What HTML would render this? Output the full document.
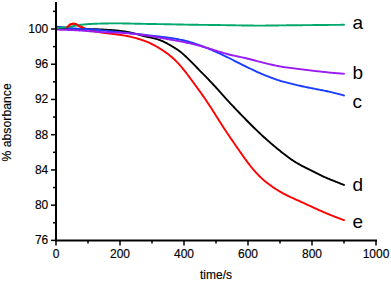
<!DOCTYPE html>
<html><head><meta charset="utf-8"><style>
html,body{margin:0;padding:0;background:#fff;width:391px;height:281px;overflow:hidden}
svg{display:block;font-family:"Liberation Sans",sans-serif}
text{fill:#000;stroke:#000;stroke-width:0.15px}
</style></head><body>
<svg width="391" height="281" viewBox="0 0 391 281">
<path d="M56.0,28.70 L57.0,28.70 L58.0,28.70 L59.0,28.70 L60.0,28.70 L61.0,28.69 L62.0,28.65 L63.0,28.58 L64.0,28.50 L65.0,28.28 L66.0,27.90 L67.0,27.24 L68.0,26.40 L69.0,25.49 L70.0,24.70 L71.0,24.20 L72.0,23.90 L73.0,23.76 L74.0,23.70 L75.0,23.86 L76.0,24.20 L77.0,24.74 L78.0,25.40 L79.0,25.98 L80.0,26.50 L81.0,26.90 L82.0,27.25 L83.0,27.60 L84.0,27.97 L85.0,28.35 L86.0,28.72 L87.0,29.07 L88.0,29.40 L89.0,29.70 L90.0,29.98 L91.0,30.24 L92.0,30.50 L93.0,30.75 L94.0,31.00 L95.0,31.25 L96.0,31.49 L97.0,31.72 L98.0,31.95 L99.0,32.18 L100.0,32.39 L101.0,32.51 L102.0,32.62 L103.0,32.74 L104.0,32.86 L105.0,32.98 L106.0,33.10 L107.0,33.22 L108.0,33.34 L109.0,33.46 L110.0,33.58 L111.0,33.71 L112.0,33.83 L113.0,33.95 L114.0,34.08 L115.0,34.21 L116.0,34.34 L117.0,34.47 L118.0,34.60 L119.0,34.74 L120.0,34.89 L121.0,35.03 L122.0,35.18 L123.0,35.34 L124.0,35.50 L125.0,35.67 L126.0,35.85 L127.0,36.03 L128.0,36.22 L129.0,36.43 L130.0,36.64 L131.0,36.87 L132.0,37.10 L133.0,37.35 L134.0,37.60 L135.0,37.87 L136.0,38.14 L137.0,38.43 L138.0,38.72 L139.0,39.02 L140.0,39.33 L141.0,39.65 L142.0,39.98 L143.0,40.32 L144.0,40.67 L145.0,41.03 L146.0,41.41 L147.0,41.80 L148.0,42.21 L149.0,42.64 L150.0,43.09 L151.0,43.57 L152.0,44.06 L153.0,44.57 L154.0,45.10 L155.0,45.64 L156.0,46.21 L157.0,46.79 L158.0,47.38 L159.0,47.99 L160.0,48.60 L161.0,49.23 L162.0,49.88 L163.0,50.54 L164.0,51.21 L165.0,51.90 L166.0,52.61 L167.0,53.33 L168.0,54.08 L169.0,54.85 L170.0,55.65 L171.0,56.47 L172.0,57.32 L173.0,58.20 L174.0,59.11 L175.0,60.06 L176.0,61.04 L177.0,62.07 L178.0,63.12 L179.0,64.22 L180.0,65.34 L181.0,66.50 L182.0,67.69 L183.0,68.90 L184.0,70.14 L185.0,71.40 L186.0,72.68 L187.0,73.98 L188.0,75.29 L189.0,76.62 L190.0,77.96 L191.0,79.30 L192.0,80.66 L193.0,82.02 L194.0,83.38 L195.0,84.75 L196.0,86.12 L197.0,87.48 L198.0,88.86 L199.0,90.23 L200.0,91.62 L201.0,93.01 L202.0,94.42 L203.0,95.84 L204.0,97.27 L205.0,98.72 L206.0,100.19 L207.0,101.68 L208.0,103.18 L209.0,104.70 L210.0,106.23 L211.0,107.77 L212.0,109.33 L213.0,110.90 L214.0,112.47 L215.0,114.05 L216.0,115.64 L217.0,117.23 L218.0,118.83 L219.0,120.42 L220.0,122.01 L221.0,123.59 L222.0,125.16 L223.0,126.73 L224.0,128.28 L225.0,129.81 L226.0,131.32 L227.0,132.82 L228.0,134.30 L229.0,135.77 L230.0,137.24 L231.0,138.69 L232.0,140.14 L233.0,141.58 L234.0,143.03 L235.0,144.47 L236.0,145.92 L237.0,147.37 L238.0,148.82 L239.0,150.27 L240.0,151.71 L241.0,153.15 L242.0,154.58 L243.0,155.99 L244.0,157.40 L245.0,158.79 L246.0,160.16 L247.0,161.52 L248.0,162.85 L249.0,164.17 L250.0,165.46 L251.0,166.72 L252.0,167.96 L253.0,169.17 L254.0,170.34 L255.0,171.49 L256.0,172.59 L257.0,173.67 L258.0,174.71 L259.0,175.73 L260.0,176.71 L261.0,177.66 L262.0,178.59 L263.0,179.48 L264.0,180.36 L265.0,181.20 L266.0,182.03 L267.0,182.83 L268.0,183.61 L269.0,184.36 L270.0,185.10 L271.0,185.82 L272.0,186.52 L273.0,187.21 L274.0,187.88 L275.0,188.54 L276.0,189.18 L277.0,189.81 L278.0,190.42 L279.0,191.02 L280.0,191.61 L281.0,192.19 L282.0,192.75 L283.0,193.30 L284.0,193.84 L285.0,194.36 L286.0,194.88 L287.0,195.38 L288.0,195.87 L289.0,196.35 L290.0,196.83 L291.0,197.30 L292.0,197.76 L293.0,198.21 L294.0,198.67 L295.0,199.12 L296.0,199.56 L297.0,200.01 L298.0,200.46 L299.0,200.91 L300.0,201.36 L301.0,201.81 L302.0,202.27 L303.0,202.73 L304.0,203.19 L305.0,203.65 L306.0,204.12 L307.0,204.58 L308.0,205.05 L309.0,205.51 L310.0,205.98 L311.0,206.44 L312.0,206.91 L313.0,207.37 L314.0,207.83 L315.0,208.29 L316.0,208.74 L317.0,209.20 L318.0,209.65 L319.0,210.09 L320.0,210.54 L321.0,210.98 L322.0,211.41 L323.0,211.85 L324.0,212.28 L325.0,212.71 L326.0,213.13 L327.0,213.55 L328.0,213.96 L329.0,214.38 L330.0,214.79 L331.0,215.19 L332.0,215.59 L333.0,215.99 L334.0,216.38 L335.0,216.77 L336.0,217.16 L337.0,217.55 L338.0,217.93 L339.0,218.31 L340.0,218.70 L341.0,219.08 L342.0,219.45 L343.0,219.83 L344.0,220.21" fill="none" stroke="#ff0000" stroke-width="1.9" stroke-linejoin="round" stroke-linecap="round"/>
<path d="M56.0,28.70 L57.0,28.70 L58.0,28.71 L59.0,28.72 L60.0,28.72 L61.0,28.73 L62.0,28.74 L63.0,28.74 L64.0,28.75 L65.0,28.76 L66.0,28.76 L67.0,28.77 L68.0,28.78 L69.0,28.78 L70.0,28.79 L71.0,28.80 L72.0,28.81 L73.0,28.82 L74.0,28.83 L75.0,28.84 L76.0,28.85 L77.0,28.86 L78.0,28.87 L79.0,28.88 L80.0,28.90 L81.0,28.91 L82.0,28.92 L83.0,28.94 L84.0,28.95 L85.0,28.97 L86.0,28.99 L87.0,29.01 L88.0,29.03 L89.0,29.05 L90.0,29.07 L91.0,29.10 L92.0,29.12 L93.0,29.15 L94.0,29.18 L95.0,29.21 L96.0,29.25 L97.0,29.28 L98.0,29.32 L99.0,29.36 L100.0,29.40 L101.0,29.45 L102.0,29.50 L103.0,29.55 L104.0,29.60 L105.0,29.66 L106.0,29.71 L107.0,29.78 L108.0,29.84 L109.0,29.91 L110.0,29.97 L111.0,30.05 L112.0,30.12 L113.0,30.20 L114.0,30.28 L115.0,30.36 L116.0,30.45 L117.0,30.54 L118.0,30.63 L119.0,30.73 L120.0,30.84 L121.0,30.96 L122.0,31.08 L123.0,31.21 L124.0,31.36 L125.0,31.51 L126.0,31.68 L127.0,31.86 L128.0,32.06 L129.0,32.26 L130.0,32.48 L131.0,32.70 L132.0,32.94 L133.0,33.18 L134.0,33.42 L135.0,33.68 L136.0,33.93 L137.0,34.19 L138.0,34.45 L139.0,34.71 L140.0,34.97 L141.0,35.23 L142.0,35.48 L143.0,35.74 L144.0,35.99 L145.0,36.24 L146.0,36.49 L147.0,36.73 L148.0,36.97 L149.0,37.21 L150.0,37.44 L151.0,37.67 L152.0,37.89 L153.0,38.12 L154.0,38.36 L155.0,38.61 L156.0,38.87 L157.0,39.15 L158.0,39.45 L159.0,39.78 L160.0,40.14 L161.0,40.53 L162.0,40.95 L163.0,41.39 L164.0,41.87 L165.0,42.37 L166.0,42.89 L167.0,43.43 L168.0,43.98 L169.0,44.54 L170.0,45.11 L171.0,45.69 L172.0,46.27 L173.0,46.86 L174.0,47.46 L175.0,48.08 L176.0,48.72 L177.0,49.38 L178.0,50.07 L179.0,50.78 L180.0,51.53 L181.0,52.32 L182.0,53.13 L183.0,53.98 L184.0,54.86 L185.0,55.76 L186.0,56.69 L187.0,57.63 L188.0,58.60 L189.0,59.58 L190.0,60.57 L191.0,61.58 L192.0,62.59 L193.0,63.62 L194.0,64.64 L195.0,65.68 L196.0,66.71 L197.0,67.74 L198.0,68.77 L199.0,69.80 L200.0,70.82 L201.0,71.84 L202.0,72.85 L203.0,73.86 L204.0,74.87 L205.0,75.88 L206.0,76.90 L207.0,77.92 L208.0,78.95 L209.0,79.99 L210.0,81.04 L211.0,82.09 L212.0,83.15 L213.0,84.23 L214.0,85.31 L215.0,86.40 L216.0,87.50 L217.0,88.62 L218.0,89.74 L219.0,90.86 L220.0,91.99 L221.0,93.11 L222.0,94.24 L223.0,95.36 L224.0,96.48 L225.0,97.59 L226.0,98.70 L227.0,99.79 L228.0,100.88 L229.0,101.95 L230.0,103.03 L231.0,104.09 L232.0,105.16 L233.0,106.21 L234.0,107.27 L235.0,108.31 L236.0,109.36 L237.0,110.41 L238.0,111.45 L239.0,112.49 L240.0,113.53 L241.0,114.57 L242.0,115.61 L243.0,116.64 L244.0,117.67 L245.0,118.70 L246.0,119.73 L247.0,120.75 L248.0,121.77 L249.0,122.78 L250.0,123.79 L251.0,124.79 L252.0,125.78 L253.0,126.77 L254.0,127.75 L255.0,128.72 L256.0,129.69 L257.0,130.65 L258.0,131.61 L259.0,132.55 L260.0,133.49 L261.0,134.42 L262.0,135.35 L263.0,136.27 L264.0,137.18 L265.0,138.08 L266.0,138.98 L267.0,139.87 L268.0,140.75 L269.0,141.63 L270.0,142.49 L271.0,143.36 L272.0,144.21 L273.0,145.06 L274.0,145.91 L275.0,146.75 L276.0,147.58 L277.0,148.41 L278.0,149.23 L279.0,150.05 L280.0,150.86 L281.0,151.67 L282.0,152.47 L283.0,153.27 L284.0,154.05 L285.0,154.83 L286.0,155.60 L287.0,156.35 L288.0,157.09 L289.0,157.82 L290.0,158.53 L291.0,159.22 L292.0,159.90 L293.0,160.56 L294.0,161.20 L295.0,161.83 L296.0,162.44 L297.0,163.04 L298.0,163.63 L299.0,164.20 L300.0,164.76 L301.0,165.30 L302.0,165.84 L303.0,166.36 L304.0,166.88 L305.0,167.39 L306.0,167.90 L307.0,168.40 L308.0,168.90 L309.0,169.41 L310.0,169.91 L311.0,170.42 L312.0,170.93 L313.0,171.44 L314.0,171.95 L315.0,172.46 L316.0,172.96 L317.0,173.47 L318.0,173.96 L319.0,174.46 L320.0,174.94 L321.0,175.42 L322.0,175.89 L323.0,176.35 L324.0,176.80 L325.0,177.25 L326.0,177.69 L327.0,178.12 L328.0,178.54 L329.0,178.96 L330.0,179.38 L331.0,179.79 L332.0,180.19 L333.0,180.59 L334.0,180.99 L335.0,181.39 L336.0,181.78 L337.0,182.17 L338.0,182.57 L339.0,182.96 L340.0,183.36 L341.0,183.76 L342.0,184.16 L343.0,184.57 L344.0,184.97" fill="none" stroke="#000000" stroke-width="1.9" stroke-linejoin="round" stroke-linecap="round"/>
<path d="M56.0,26.74 L57.0,26.79 L58.0,26.85 L59.0,26.91 L60.0,26.98 L61.0,27.06 L62.0,27.15 L63.0,27.26 L64.0,27.38 L65.0,27.51 L66.0,27.64 L67.0,27.77 L68.0,27.89 L69.0,28.01 L70.0,28.11 L71.0,28.20 L72.0,28.29 L73.0,28.37 L74.0,28.44 L75.0,28.50 L76.0,28.56 L77.0,28.61 L78.0,28.66 L79.0,28.70 L80.0,28.75 L81.0,28.79 L82.0,28.83 L83.0,28.87 L84.0,28.91 L85.0,28.96 L86.0,29.00 L87.0,29.05 L88.0,29.10 L89.0,29.16 L90.0,29.23 L91.0,29.30 L92.0,29.37 L93.0,29.45 L94.0,29.54 L95.0,29.63 L96.0,29.73 L97.0,29.82 L98.0,29.93 L99.0,30.03 L100.0,30.14 L101.0,30.24 L102.0,30.35 L103.0,30.46 L104.0,30.57 L105.0,30.68 L106.0,30.79 L107.0,30.89 L108.0,31.00 L109.0,31.10 L110.0,31.21 L111.0,31.31 L112.0,31.41 L113.0,31.51 L114.0,31.61 L115.0,31.71 L116.0,31.81 L117.0,31.91 L118.0,32.01 L119.0,32.11 L120.0,32.21 L121.0,32.30 L122.0,32.40 L123.0,32.50 L124.0,32.60 L125.0,32.70 L126.0,32.80 L127.0,32.90 L128.0,33.00 L129.0,33.11 L130.0,33.21 L131.0,33.32 L132.0,33.42 L133.0,33.53 L134.0,33.64 L135.0,33.74 L136.0,33.85 L137.0,33.97 L138.0,34.08 L139.0,34.19 L140.0,34.31 L141.0,34.42 L142.0,34.54 L143.0,34.66 L144.0,34.78 L145.0,34.90 L146.0,35.02 L147.0,35.14 L148.0,35.25 L149.0,35.37 L150.0,35.49 L151.0,35.60 L152.0,35.71 L153.0,35.83 L154.0,35.94 L155.0,36.05 L156.0,36.16 L157.0,36.27 L158.0,36.38 L159.0,36.49 L160.0,36.60 L161.0,36.72 L162.0,36.84 L163.0,36.96 L164.0,37.08 L165.0,37.20 L166.0,37.33 L167.0,37.46 L168.0,37.59 L169.0,37.73 L170.0,37.87 L171.0,38.02 L172.0,38.17 L173.0,38.33 L174.0,38.49 L175.0,38.66 L176.0,38.84 L177.0,39.02 L178.0,39.21 L179.0,39.40 L180.0,39.60 L181.0,39.81 L182.0,40.03 L183.0,40.26 L184.0,40.49 L185.0,40.73 L186.0,40.98 L187.0,41.24 L188.0,41.51 L189.0,41.78 L190.0,42.07 L191.0,42.36 L192.0,42.66 L193.0,42.97 L194.0,43.29 L195.0,43.62 L196.0,43.96 L197.0,44.30 L198.0,44.66 L199.0,45.02 L200.0,45.38 L201.0,45.75 L202.0,46.13 L203.0,46.51 L204.0,46.89 L205.0,47.28 L206.0,47.68 L207.0,48.07 L208.0,48.48 L209.0,48.89 L210.0,49.30 L211.0,49.72 L212.0,50.14 L213.0,50.57 L214.0,51.01 L215.0,51.44 L216.0,51.89 L217.0,52.33 L218.0,52.78 L219.0,53.24 L220.0,53.70 L221.0,54.16 L222.0,54.63 L223.0,55.10 L224.0,55.58 L225.0,56.06 L226.0,56.54 L227.0,57.03 L228.0,57.52 L229.0,58.01 L230.0,58.51 L231.0,59.01 L232.0,59.52 L233.0,60.02 L234.0,60.53 L235.0,61.04 L236.0,61.55 L237.0,62.06 L238.0,62.57 L239.0,63.08 L240.0,63.58 L241.0,64.09 L242.0,64.59 L243.0,65.09 L244.0,65.58 L245.0,66.08 L246.0,66.57 L247.0,67.06 L248.0,67.54 L249.0,68.03 L250.0,68.52 L251.0,69.00 L252.0,69.48 L253.0,69.96 L254.0,70.43 L255.0,70.91 L256.0,71.37 L257.0,71.83 L258.0,72.29 L259.0,72.74 L260.0,73.18 L261.0,73.61 L262.0,74.03 L263.0,74.45 L264.0,74.86 L265.0,75.27 L266.0,75.67 L267.0,76.07 L268.0,76.46 L269.0,76.84 L270.0,77.23 L271.0,77.61 L272.0,77.99 L273.0,78.36 L274.0,78.73 L275.0,79.09 L276.0,79.44 L277.0,79.78 L278.0,80.12 L279.0,80.44 L280.0,80.76 L281.0,81.06 L282.0,81.35 L283.0,81.63 L284.0,81.91 L285.0,82.17 L286.0,82.43 L287.0,82.69 L288.0,82.94 L289.0,83.18 L290.0,83.43 L291.0,83.67 L292.0,83.91 L293.0,84.16 L294.0,84.40 L295.0,84.63 L296.0,84.87 L297.0,85.10 L298.0,85.34 L299.0,85.57 L300.0,85.79 L301.0,86.02 L302.0,86.24 L303.0,86.45 L304.0,86.67 L305.0,86.88 L306.0,87.09 L307.0,87.30 L308.0,87.50 L309.0,87.71 L310.0,87.91 L311.0,88.11 L312.0,88.30 L313.0,88.50 L314.0,88.69 L315.0,88.89 L316.0,89.08 L317.0,89.27 L318.0,89.45 L319.0,89.64 L320.0,89.83 L321.0,90.02 L322.0,90.22 L323.0,90.41 L324.0,90.61 L325.0,90.82 L326.0,91.03 L327.0,91.24 L328.0,91.45 L329.0,91.67 L330.0,91.89 L331.0,92.12 L332.0,92.35 L333.0,92.58 L334.0,92.82 L335.0,93.06 L336.0,93.31 L337.0,93.57 L338.0,93.83 L339.0,94.09 L340.0,94.36 L341.0,94.64 L342.0,94.92 L343.0,95.20 L344.0,95.48" fill="none" stroke="#1a3cff" stroke-width="1.9" stroke-linejoin="round" stroke-linecap="round"/>
<path d="M56.0,29.60 L57.0,29.62 L58.0,29.65 L59.0,29.67 L60.0,29.69 L61.0,29.72 L62.0,29.75 L63.0,29.77 L64.0,29.80 L65.0,29.83 L66.0,29.86 L67.0,29.89 L68.0,29.93 L69.0,29.96 L70.0,30.00 L71.0,30.04 L72.0,30.08 L73.0,30.13 L74.0,30.17 L75.0,30.22 L76.0,30.27 L77.0,30.33 L78.0,30.38 L79.0,30.45 L80.0,30.51 L81.0,30.58 L82.0,30.65 L83.0,30.72 L84.0,30.79 L85.0,30.87 L86.0,30.95 L87.0,31.03 L88.0,31.11 L89.0,31.19 L90.0,31.27 L91.0,31.35 L92.0,31.43 L93.0,31.52 L94.0,31.60 L95.0,31.68 L96.0,31.75 L97.0,31.83 L98.0,31.90 L99.0,31.97 L100.0,32.04 L101.0,32.11 L102.0,32.17 L103.0,32.23 L104.0,32.28 L105.0,32.33 L106.0,32.38 L107.0,32.42 L108.0,32.46 L109.0,32.49 L110.0,32.52 L111.0,32.55 L112.0,32.58 L113.0,32.60 L114.0,32.62 L115.0,32.65 L116.0,32.68 L117.0,32.70 L118.0,32.73 L119.0,32.76 L120.0,32.80 L121.0,32.84 L122.0,32.89 L123.0,32.94 L124.0,32.99 L125.0,33.05 L126.0,33.13 L127.0,33.20 L128.0,33.29 L129.0,33.38 L130.0,33.48 L131.0,33.59 L132.0,33.69 L133.0,33.81 L134.0,33.93 L135.0,34.05 L136.0,34.17 L137.0,34.29 L138.0,34.42 L139.0,34.55 L140.0,34.67 L141.0,34.80 L142.0,34.93 L143.0,35.06 L144.0,35.18 L145.0,35.32 L146.0,35.45 L147.0,35.59 L148.0,35.73 L149.0,35.87 L150.0,36.02 L151.0,36.18 L152.0,36.34 L153.0,36.51 L154.0,36.68 L155.0,36.86 L156.0,37.03 L157.0,37.21 L158.0,37.40 L159.0,37.58 L160.0,37.77 L161.0,37.95 L162.0,38.13 L163.0,38.32 L164.0,38.50 L165.0,38.68 L166.0,38.86 L167.0,39.03 L168.0,39.21 L169.0,39.38 L170.0,39.55 L171.0,39.72 L172.0,39.89 L173.0,40.06 L174.0,40.23 L175.0,40.41 L176.0,40.58 L177.0,40.76 L178.0,40.94 L179.0,41.12 L180.0,41.31 L181.0,41.50 L182.0,41.69 L183.0,41.89 L184.0,42.10 L185.0,42.30 L186.0,42.51 L187.0,42.73 L188.0,42.95 L189.0,43.17 L190.0,43.40 L191.0,43.63 L192.0,43.87 L193.0,44.11 L194.0,44.35 L195.0,44.60 L196.0,44.86 L197.0,45.11 L198.0,45.38 L199.0,45.64 L200.0,45.91 L201.0,46.19 L202.0,46.47 L203.0,46.75 L204.0,47.03 L205.0,47.32 L206.0,47.61 L207.0,47.91 L208.0,48.20 L209.0,48.50 L210.0,48.81 L211.0,49.11 L212.0,49.42 L213.0,49.73 L214.0,50.04 L215.0,50.35 L216.0,50.66 L217.0,50.98 L218.0,51.29 L219.0,51.60 L220.0,51.91 L221.0,52.22 L222.0,52.52 L223.0,52.82 L224.0,53.12 L225.0,53.41 L226.0,53.69 L227.0,53.97 L228.0,54.24 L229.0,54.50 L230.0,54.76 L231.0,55.00 L232.0,55.23 L233.0,55.45 L234.0,55.67 L235.0,55.88 L236.0,56.09 L237.0,56.30 L238.0,56.51 L239.0,56.71 L240.0,56.92 L241.0,57.13 L242.0,57.35 L243.0,57.57 L244.0,57.79 L245.0,58.02 L246.0,58.25 L247.0,58.49 L248.0,58.73 L249.0,58.97 L250.0,59.22 L251.0,59.48 L252.0,59.74 L253.0,60.01 L254.0,60.27 L255.0,60.54 L256.0,60.81 L257.0,61.08 L258.0,61.35 L259.0,61.61 L260.0,61.88 L261.0,62.14 L262.0,62.39 L263.0,62.64 L264.0,62.89 L265.0,63.13 L266.0,63.38 L267.0,63.61 L268.0,63.85 L269.0,64.08 L270.0,64.31 L271.0,64.54 L272.0,64.77 L273.0,64.99 L274.0,65.21 L275.0,65.43 L276.0,65.64 L277.0,65.84 L278.0,66.05 L279.0,66.24 L280.0,66.43 L281.0,66.61 L282.0,66.78 L283.0,66.95 L284.0,67.11 L285.0,67.26 L286.0,67.40 L287.0,67.53 L288.0,67.65 L289.0,67.78 L290.0,67.90 L291.0,68.01 L292.0,68.13 L293.0,68.26 L294.0,68.38 L295.0,68.51 L296.0,68.64 L297.0,68.77 L298.0,68.91 L299.0,69.04 L300.0,69.17 L301.0,69.29 L302.0,69.41 L303.0,69.53 L304.0,69.65 L305.0,69.77 L306.0,69.89 L307.0,70.01 L308.0,70.13 L309.0,70.25 L310.0,70.37 L311.0,70.49 L312.0,70.62 L313.0,70.74 L314.0,70.86 L315.0,70.97 L316.0,71.08 L317.0,71.19 L318.0,71.30 L319.0,71.41 L320.0,71.51 L321.0,71.62 L322.0,71.72 L323.0,71.83 L324.0,71.94 L325.0,72.05 L326.0,72.16 L327.0,72.27 L328.0,72.37 L329.0,72.48 L330.0,72.58 L331.0,72.68 L332.0,72.78 L333.0,72.87 L334.0,72.96 L335.0,73.05 L336.0,73.13 L337.0,73.21 L338.0,73.29 L339.0,73.37 L340.0,73.44 L341.0,73.51 L342.0,73.58 L343.0,73.64 L344.0,73.71" fill="none" stroke="#9a1cf0" stroke-width="1.9" stroke-linejoin="round" stroke-linecap="round"/>
<path d="M56.0,28.01 L57.0,27.96 L58.0,27.91 L59.0,27.86 L60.0,27.79 L61.0,27.72 L62.0,27.63 L63.0,27.54 L64.0,27.43 L65.0,27.32 L66.0,27.19 L67.0,27.06 L68.0,26.92 L69.0,26.77 L70.0,26.62 L71.0,26.46 L72.0,26.31 L73.0,26.14 L74.0,25.97 L75.0,25.78 L76.0,25.59 L77.0,25.41 L78.0,25.23 L79.0,25.07 L80.0,24.93 L81.0,24.81 L82.0,24.69 L83.0,24.59 L84.0,24.49 L85.0,24.40 L86.0,24.31 L87.0,24.22 L88.0,24.14 L89.0,24.07 L90.0,24.00 L91.0,23.94 L92.0,23.89 L93.0,23.84 L94.0,23.79 L95.0,23.75 L96.0,23.72 L97.0,23.68 L98.0,23.65 L99.0,23.62 L100.0,23.60 L101.0,23.57 L102.0,23.55 L103.0,23.52 L104.0,23.50 L105.0,23.48 L106.0,23.46 L107.0,23.44 L108.0,23.43 L109.0,23.41 L110.0,23.40 L111.0,23.39 L112.0,23.38 L113.0,23.38 L114.0,23.38 L115.0,23.37 L116.0,23.38 L117.0,23.38 L118.0,23.38 L119.0,23.39 L120.0,23.40 L121.0,23.41 L122.0,23.42 L123.0,23.44 L124.0,23.45 L125.0,23.47 L126.0,23.49 L127.0,23.51 L128.0,23.53 L129.0,23.55 L130.0,23.57 L131.0,23.60 L132.0,23.62 L133.0,23.64 L134.0,23.67 L135.0,23.69 L136.0,23.71 L137.0,23.73 L138.0,23.76 L139.0,23.78 L140.0,23.80 L141.0,23.82 L142.0,23.84 L143.0,23.86 L144.0,23.88 L145.0,23.89 L146.0,23.91 L147.0,23.93 L148.0,23.94 L149.0,23.96 L150.0,23.97 L151.0,23.99 L152.0,24.00 L153.0,24.02 L154.0,24.03 L155.0,24.05 L156.0,24.06 L157.0,24.08 L158.0,24.09 L159.0,24.11 L160.0,24.12 L161.0,24.14 L162.0,24.15 L163.0,24.17 L164.0,24.18 L165.0,24.20 L166.0,24.22 L167.0,24.24 L168.0,24.25 L169.0,24.27 L170.0,24.29 L171.0,24.31 L172.0,24.33 L173.0,24.35 L174.0,24.37 L175.0,24.39 L176.0,24.42 L177.0,24.44 L178.0,24.46 L179.0,24.48 L180.0,24.50 L181.0,24.52 L182.0,24.54 L183.0,24.56 L184.0,24.58 L185.0,24.61 L186.0,24.63 L187.0,24.64 L188.0,24.66 L189.0,24.68 L190.0,24.70 L191.0,24.72 L192.0,24.73 L193.0,24.75 L194.0,24.76 L195.0,24.78 L196.0,24.79 L197.0,24.80 L198.0,24.81 L199.0,24.83 L200.0,24.84 L201.0,24.85 L202.0,24.86 L203.0,24.87 L204.0,24.88 L205.0,24.89 L206.0,24.90 L207.0,24.91 L208.0,24.92 L209.0,24.93 L210.0,24.94 L211.0,24.95 L212.0,24.96 L213.0,24.98 L214.0,24.99 L215.0,25.00 L216.0,25.01 L217.0,25.03 L218.0,25.04 L219.0,25.05 L220.0,25.07 L221.0,25.08 L222.0,25.10 L223.0,25.11 L224.0,25.13 L225.0,25.15 L226.0,25.16 L227.0,25.18 L228.0,25.20 L229.0,25.21 L230.0,25.23 L231.0,25.25 L232.0,25.26 L233.0,25.28 L234.0,25.30 L235.0,25.32 L236.0,25.33 L237.0,25.35 L238.0,25.37 L239.0,25.38 L240.0,25.40 L241.0,25.42 L242.0,25.43 L243.0,25.45 L244.0,25.46 L245.0,25.48 L246.0,25.49 L247.0,25.51 L248.0,25.52 L249.0,25.53 L250.0,25.54 L251.0,25.55 L252.0,25.56 L253.0,25.57 L254.0,25.58 L255.0,25.59 L256.0,25.59 L257.0,25.60 L258.0,25.60 L259.0,25.60 L260.0,25.60 L261.0,25.60 L262.0,25.59 L263.0,25.59 L264.0,25.58 L265.0,25.58 L266.0,25.57 L267.0,25.56 L268.0,25.55 L269.0,25.54 L270.0,25.53 L271.0,25.52 L272.0,25.50 L273.0,25.49 L274.0,25.48 L275.0,25.47 L276.0,25.45 L277.0,25.44 L278.0,25.43 L279.0,25.41 L280.0,25.40 L281.0,25.39 L282.0,25.38 L283.0,25.37 L284.0,25.35 L285.0,25.34 L286.0,25.33 L287.0,25.32 L288.0,25.31 L289.0,25.30 L290.0,25.29 L291.0,25.28 L292.0,25.27 L293.0,25.26 L294.0,25.26 L295.0,25.25 L296.0,25.24 L297.0,25.23 L298.0,25.22 L299.0,25.21 L300.0,25.20 L301.0,25.19 L302.0,25.18 L303.0,25.17 L304.0,25.16 L305.0,25.15 L306.0,25.14 L307.0,25.13 L308.0,25.12 L309.0,25.11 L310.0,25.10 L311.0,25.09 L312.0,25.08 L313.0,25.07 L314.0,25.06 L315.0,25.05 L316.0,25.04 L317.0,25.03 L318.0,25.02 L319.0,25.01 L320.0,25.00 L321.0,24.99 L322.0,24.98 L323.0,24.97 L324.0,24.96 L325.0,24.95 L326.0,24.95 L327.0,24.94 L328.0,24.93 L329.0,24.92 L330.0,24.91 L331.0,24.90 L332.0,24.89 L333.0,24.89 L334.0,24.88 L335.0,24.87 L336.0,24.86 L337.0,24.85 L338.0,24.85 L339.0,24.84 L340.0,24.83 L341.0,24.82 L342.0,24.82 L343.0,24.81 L344.0,24.80" fill="none" stroke="#00a86b" stroke-width="1.9" stroke-linejoin="round" stroke-linecap="round"/>
<path d="M67.0,27.24 L68.0,26.40 L69.0,25.49 L70.0,24.70 L71.0,24.20 L72.0,23.90 L73.0,23.76 L74.0,23.70 L75.0,23.86 L76.0,24.20 L77.0,24.74 L78.0,25.40 L79.0,25.98 L80.0,26.50 L81.0,26.90 L82.0,27.25 L83.0,27.60" fill="none" stroke="#ff0000" stroke-width="1.9" stroke-linejoin="round" stroke-linecap="round"/>
<path d="M56.0,2 V240.5 H377.0" fill="none" stroke="#000" stroke-width="2"/>
<path d="M51.0,240.39 H56.0" stroke="#000" stroke-width="1.5"/>
<path d="M53.0,222.78 H56.0" stroke="#000" stroke-width="1.5"/>
<path d="M51.0,205.16 H56.0" stroke="#000" stroke-width="1.5"/>
<path d="M53.0,187.54 H56.0" stroke="#000" stroke-width="1.5"/>
<path d="M51.0,169.93 H56.0" stroke="#000" stroke-width="1.5"/>
<path d="M53.0,152.31 H56.0" stroke="#000" stroke-width="1.5"/>
<path d="M51.0,134.70 H56.0" stroke="#000" stroke-width="1.5"/>
<path d="M53.0,117.08 H56.0" stroke="#000" stroke-width="1.5"/>
<path d="M51.0,99.46 H56.0" stroke="#000" stroke-width="1.5"/>
<path d="M53.0,81.85 H56.0" stroke="#000" stroke-width="1.5"/>
<path d="M51.0,64.23 H56.0" stroke="#000" stroke-width="1.5"/>
<path d="M53.0,46.62 H56.0" stroke="#000" stroke-width="1.5"/>
<path d="M51.0,29.00 H56.0" stroke="#000" stroke-width="1.5"/>
<path d="M53.0,11.38 H56.0" stroke="#000" stroke-width="1.5"/>
<path d="M56.00,240.5 V245.5" stroke="#000" stroke-width="1.5"/>
<path d="M88.00,240.5 V243.5" stroke="#000" stroke-width="1.5"/>
<path d="M120.00,240.5 V245.5" stroke="#000" stroke-width="1.5"/>
<path d="M152.00,240.5 V243.5" stroke="#000" stroke-width="1.5"/>
<path d="M184.00,240.5 V245.5" stroke="#000" stroke-width="1.5"/>
<path d="M216.00,240.5 V243.5" stroke="#000" stroke-width="1.5"/>
<path d="M248.00,240.5 V245.5" stroke="#000" stroke-width="1.5"/>
<path d="M280.00,240.5 V243.5" stroke="#000" stroke-width="1.5"/>
<path d="M312.00,240.5 V245.5" stroke="#000" stroke-width="1.5"/>
<path d="M344.00,240.5 V243.5" stroke="#000" stroke-width="1.5"/>
<path d="M376.00,240.5 V245.5" stroke="#000" stroke-width="1.5"/>
<text x="48.3" y="244.39" text-anchor="end" font-size="12">76</text>
<text x="48.3" y="209.16" text-anchor="end" font-size="12">80</text>
<text x="48.3" y="173.93" text-anchor="end" font-size="12">84</text>
<text x="48.3" y="138.70" text-anchor="end" font-size="12">88</text>
<text x="48.3" y="103.46" text-anchor="end" font-size="12">92</text>
<text x="48.3" y="68.23" text-anchor="end" font-size="12">96</text>
<text x="48.3" y="33.00" text-anchor="end" font-size="12">100</text>
<text x="56.00" y="258.3" text-anchor="middle" font-size="12">0</text>
<text x="120.00" y="258.3" text-anchor="middle" font-size="12">200</text>
<text x="184.00" y="258.3" text-anchor="middle" font-size="12">400</text>
<text x="248.00" y="258.3" text-anchor="middle" font-size="12">600</text>
<text x="312.00" y="258.3" text-anchor="middle" font-size="12">800</text>
<text x="376.00" y="258.3" text-anchor="middle" font-size="12">1000</text>
<text x="216" y="278.5" text-anchor="middle" font-size="12">time/s</text>
<text transform="translate(11.3,122.4) rotate(-90)" text-anchor="middle" font-size="12.25">% absorbance</text>
<text x="352.6" y="29.4" font-size="19" style="stroke-width:0">a</text>
<text x="352.6" y="79.0" font-size="19" style="stroke-width:0">b</text>
<text x="352.6" y="108.0" font-size="19" style="stroke-width:0">c</text>
<text x="352.6" y="191.4" font-size="19" style="stroke-width:0">d</text>
<text x="352.6" y="228.3" font-size="19" style="stroke-width:0">e</text>
</svg>
</body></html>
